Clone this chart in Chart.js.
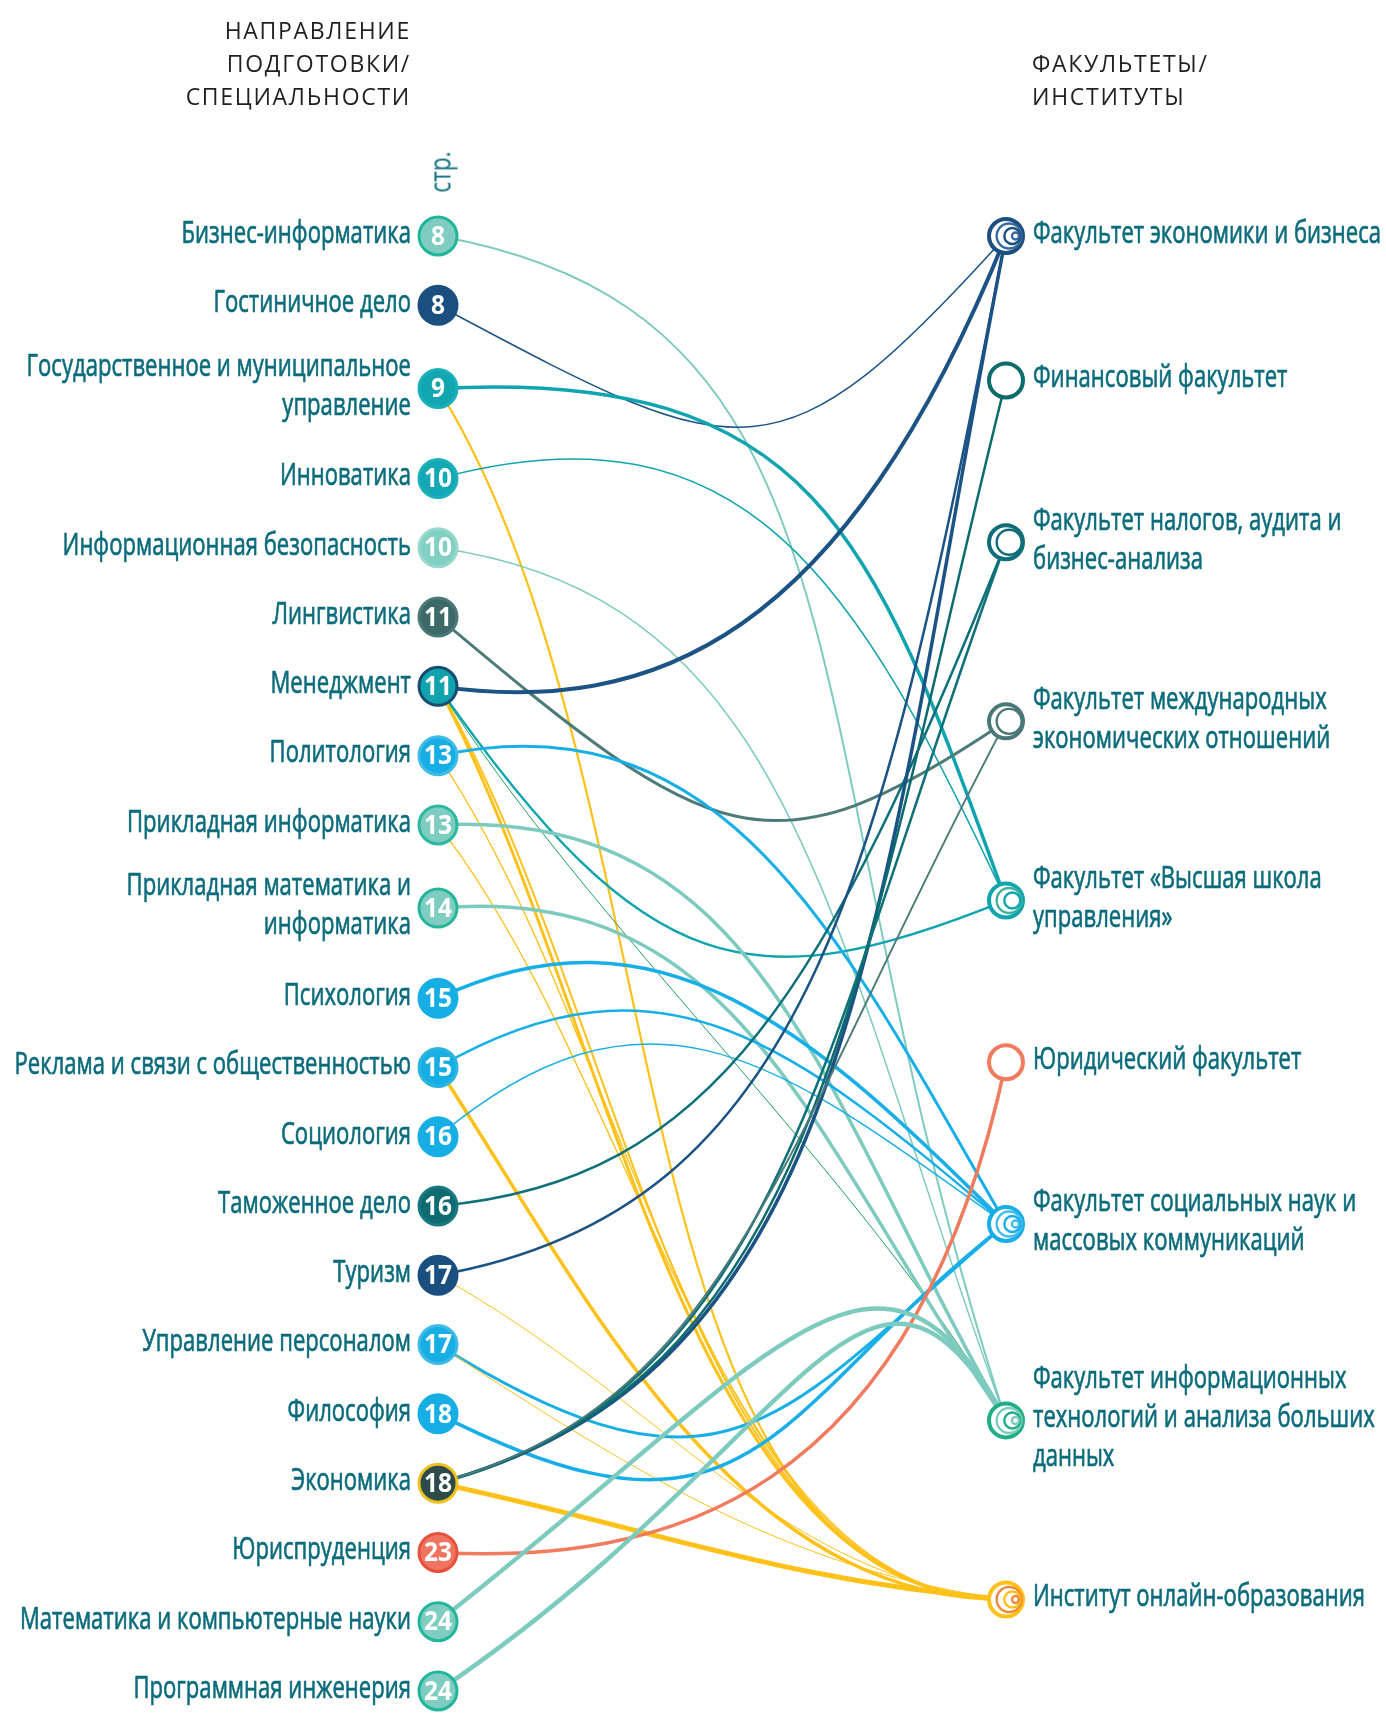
<!DOCTYPE html>
<html><head><meta charset="utf-8">
<script src="https://cdn.jsdelivr.net/npm/chart.js@4.4.0/dist/chart.umd.min.js"></script>
<style>
html,body{margin:0;padding:0;background:#fff;}
#wrap{position:relative;width:1386px;height:1713px;overflow:hidden;}
#c{position:absolute;left:0;top:0;}
.hdr{position:absolute;font-family:"Open Sans",sans-serif;font-size:23px;letter-spacing:1.7px;color:#231f20;line-height:33px;white-space:nowrap;}
#hl{right:975px;top:14px;text-align:right;}
#hr{left:1032px;top:47px;}
#str{position:absolute;left:439px;top:172px;font-family:"Open Sans",sans-serif;font-size:29px;color:#0d6e7d;line-height:1;white-space:nowrap;transform:translate(-50%,-50%) rotate(-90deg) scaleX(0.78);}
</style></head>
<body>
<div id="wrap">
<canvas id="c" width="1386" height="1713"></canvas>
<div class="hdr" id="hl">НАПРАВЛЕНИЕ<br>ПОДГОТОВКИ/<br>СПЕЦИАЛЬНОСТИ</div>
<div class="hdr" id="hr">ФАКУЛЬТЕТЫ/<br>ИНСТИТУТЫ</div>
<div id="str">стр.</div>
</div>
<script>
// ---------- DATA ----------
const programs = [
  ["Бизнес-информатика"],
  ["Гостиничное дело"],
  ["Государственное и муниципальное","управление"],
  ["Инноватика"],
  ["Информационная безопасность"],
  ["Лингвистика"],
  ["Менеджмент"],
  ["Политология"],
  ["Прикладная информатика"],
  ["Прикладная математика и","информатика"],
  ["Психология"],
  ["Реклама и связи с общественностью"],
  ["Социология"],
  ["Таможенное дело"],
  ["Туризм"],
  ["Управление персоналом"],
  ["Философия"],
  ["Экономика"],
  ["Юриспруденция"],
  ["Математика и компьютерные науки"],
  ["Программная инженерия"]
];
const pages = [8,8,9,10,10,11,11,13,13,14,15,15,16,16,17,17,18,18,23,24,24];
const faculties = [
  ["Факультет экономики и бизнеса"],
  ["Финансовый факультет"],
  ["Факультет налогов, аудита и","бизнес-анализа"],
  ["Факультет международных","экономических отношений"],
  ["Факультет «Высшая школа","управления»"],
  ["Юридический факультет"],
  ["Факультет социальных наук и","массовых коммуникаций"],
  ["Факультет информационных","технологий и анализа больших","данных"],
  ["Институт онлайн-образования"]
];
// links: [program index, faculty index, weight]
const links = [
  [0,7,2],[1,0,1.5],[2,4,3.5],[2,8,2.2],[3,4,1.5],[4,7,1.5],[5,3,3],
  [6,0,4],[6,4,2.5],[6,8,3],[6,8,2],[6,7,1],
  [7,6,3],[7,8,1.3],[8,7,3.5],[8,8,1.3],[9,7,3.5],
  [10,6,3.5],[11,6,2.5],[11,8,3.5],[12,6,1.5],[13,2,2.5],
  [14,0,2.5],[14,8,1],[15,6,3],[15,8,1],[16,6,3.5],
  [17,0,3.5],[17,1,2.5],[17,2,2.5],[17,3,2],[17,8,5],
  [18,5,3.5],[19,7,4.5],[20,7,4.5]
];

// ---------- STYLE ----------
const TEXT = '#0c6c7c';
const facColor = ['#1b5384','#0b6b6e','#0e7078','#4c7b79','#10a4af','#f07b5f','#18afe8','#7dcbbf','#fdc11a'];
const ringColor = ['#1d4e80','#0d6b6c','#0e6d78','#4a7876','#10a4af','#f07b5f','#1aaee6','#1fae86','#fdc11a'];
const innerColor = ['#3a6aa0','#0d6b6c','#0e6d78','#4a7876','#3fb2a0','#f07b5f','#42bdec','#7dcbbf','#f08a3a'];
const leftFill = ['#7fcdc1','#1b4f80','#12a6b0','#13a8b4','#82cfc4','#3d6a68','#10a3ae','#17aee6','#7fcdc1','#7fcdc1','#17aee6','#17aee6','#17aee6','#0e6b71','#1b4f80','#17aee6','#17aee6','#2c4b49','#f07560','#7fcdc1','#7fcdc1'];
const leftBorder = ['#21b59a','#1b4f80','#19b0b9','#1cb0bb','#97d8cd','#4a7876','#174c70','#3fbbe8','#2cb79f','#27b59a','#17aee6','#2bb4de','#17aee6','#167a80','#1b4f80','#3fbbe8','#17aee6','#f0c020','#e8503c','#21b59a','#21b59a'];
const leftInner = [null,'#5b73a8','#1f9e5a',null,null,null,'#22a160','#1c9a58','#a8a63e',null,null,'#23a05a',null,null,'#2f4586','#9fcf6a',null,'#1c3030',null,null,null];
// curve shape per link: [exit angle deg, entry angle deg, exit handle, entry handle] (handles as share of chord)
const curveStyle = [
  [10,72,0.35,0.55],[28,-48,0.6,0.6],[-3,70,0.5,0.5],[58,0,0.35,0.3],[-15,65,0.45,0.5],[8,70,0.35,0.5],[40,-34,0.62,0.5],
  [8,-68,0.3,0.6],[55,-22,0.6,0.45],[62,0,0.35,0.3],[60,0,0.35,0.3],[58,60,0.3,0.3],
  [-12,60,0.4,0.45],[56,0,0.35,0.3],[-3,60,0.4,0.45],[52,0,0.35,0.3],[-5,55,0.4,0.45],
  [-25,45,0.4,0.45],[-30,40,0.45,0.45],[57,0,0.35,0.35],[-40,35,0.5,0.45],[-5,-68,0.32,0.55],
  [-10,-79,0.32,0.55],[29,5,0.4,0.35],[32,-40,0.6,0.5],[33,8,0.4,0.35],[27,-38,0.6,0.5],
  [-15,-79,0.32,0.5],[-15,-76,0.32,0.5],[-15,-70,0.32,0.5],[-15,-62,0.32,0.5],[12,5,0.4,0.4],
  [3,-78,0.3,0.6],[-38,62,0.7,0.45],[-34,60,0.7,0.45]
];
const linkColorOverride = {11:'#1e9e62'};

// ---------- LAYOUT (derived from label line counts) ----------
const leftPos = [];
programs.forEach((p,i)=>{ leftPos.push(i===0?0:leftPos[i-1]+1+0.2*(p.length-1)+0.3*(programs[i-1].length-1)); });
const rightPos = [];
faculties.forEach((f,j)=>{ rightPos.push(j===0?0:rightPos[j-1]+1.585+0.25*(faculties[j-1].length+f.length)); });
const linkCount = faculties.map((_,j)=>links.filter(l=>l[1]===j).length);

const LABEL_FONT = '31px "Open Sans", "Noto Sans", sans-serif';
const NUM_FONT = 'bold 27px "Open Sans", "Noto Sans", sans-serif';
const LINE_H = 39;

function txt(ctx, s, x, y, align, font, color, sx, stroke){
  ctx.save(); ctx.font = font; ctx.fillStyle = color; ctx.textBaseline = 'middle'; ctx.textAlign = align;
  ctx.translate(x,y); ctx.scale(sx,1); ctx.fillText(s,0,0);
  if(stroke){ ctx.strokeStyle = color; ctx.lineWidth = stroke; ctx.lineJoin='round'; ctx.strokeText(s,0,0); }
  ctx.restore();
}

const linkPlugin = {
  id:'links',
  beforeDatasetsDraw(chart){
    const ctx = chart.ctx, xs = chart.scales.x, ys = chart.scales.y;
    ctx.save(); ctx.lineCap = 'round';
    links.forEach((l,i)=>{
      const [s,t,w] = l; const cs = curveStyle[i];
      const x0 = xs.getPixelForValue(0), y0 = ys.getPixelForValue(leftPos[s]);
      const x3 = xs.getPixelForValue(1), y3 = ys.getPixelForValue(rightPos[t]);
      const C = Math.hypot(x3-x0, y3-y0);
      const e = cs[0]*Math.PI/180, f = cs[1]*Math.PI/180;
      const x1 = x0 + cs[2]*C*Math.cos(e), y1 = y0 + cs[2]*C*Math.sin(e);
      const x2 = x3 - cs[3]*C*Math.cos(f), y2 = y3 - cs[3]*C*Math.sin(f);
      ctx.beginPath(); ctx.moveTo(x0,y0); ctx.bezierCurveTo(x1,y1,x2,y2,x3,y3);
      ctx.strokeStyle = linkColorOverride[i] || facColor[t]; ctx.lineWidth = w; ctx.stroke();
    });
    ctx.restore();
  },
  afterDatasetsDraw(chart){
    const ctx = chart.ctx, xs = chart.scales.x, ys = chart.scales.y;
    chart.getDatasetMeta(2).data.forEach((pt,j)=>{
      const n = Math.min(linkCount[j]-1, 3); const R = 17;
      for(let k=1;k<=n;k++){
        const r = R - 4.5*k; const cx = pt.x + (R - r)*0.7;
        ctx.beginPath(); ctx.arc(cx, pt.y, r, 0, Math.PI*2);
        ctx.strokeStyle = k%2 ? innerColor[j] : ringColor[j]; ctx.lineWidth = 2.4; ctx.stroke();
      }
    });
    ctx.save(); ctx.font = LABEL_FONT;
    const sx = 348 / ctx.measureText('Факультет экономики и бизнеса').width;
    ctx.font = NUM_FONT;
    const nsx = 28 / ctx.measureText('18').width;
    ctx.restore();
    chart.getDatasetMeta(0).data.forEach((pt,i)=>{
      txt(ctx, String(pages[i]), pt.x, pt.y+1, 'center', NUM_FONT, '#ffffff', Math.min(nsx,1));
    });
    programs.forEach((lines,i)=>{
      const x = xs.getPixelForValue(0) - 27, yc = ys.getPixelForValue(leftPos[i]);
      lines.forEach((s,k)=>{ txt(ctx, s, x, yc + (k-(lines.length-1)/2)*LINE_H - 2, 'right', LABEL_FONT, TEXT, sx, 0.7); });
    });
    faculties.forEach((lines,j)=>{
      const x = xs.getPixelForValue(1) + 27, yc = ys.getPixelForValue(rightPos[j]);
      lines.forEach((s,k)=>{ txt(ctx, s, x, yc + (k-(lines.length-1)/2)*LINE_H - 2, 'left', LABEL_FONT, TEXT, sx, 0.7); });
    });
  }
};

new Chart(document.getElementById('c'), {
  type:'scatter',
  data:{ datasets:[
    { data: leftPos.map(y=>({x:0,y})), pointRadius:19, pointBorderWidth:3,
      pointBackgroundColor:leftFill, pointBorderColor:leftBorder, clip:false },
    { data: leftPos.map(y=>({x:0,y})), pointRadius:13, pointBorderWidth:1.8,
      pointBackgroundColor:'rgba(0,0,0,0)', pointBorderColor:leftInner.map(c=>c||'rgba(0,0,0,0)'), clip:false },
    { data: rightPos.map(y=>({x:1,y})), pointRadius:17, pointBorderWidth:4,
      pointBackgroundColor:'#ffffff', pointBorderColor:ringColor, clip:false }
  ]},
  options:{
    responsive:false, animation:false, events:[],
    layout:{ padding:{ left:438, right:380, top:236, bottom:19 } },
    plugins:{ legend:{display:false}, tooltip:{enabled:false}, title:{display:false} },
    scales:{
      x:{ type:'linear', min:0, max:1, display:false },
      y:{ type:'linear', min:0, max:21, reverse:true, display:false }
    }
  },
  plugins:[linkPlugin]
});
</script>
</body></html>
